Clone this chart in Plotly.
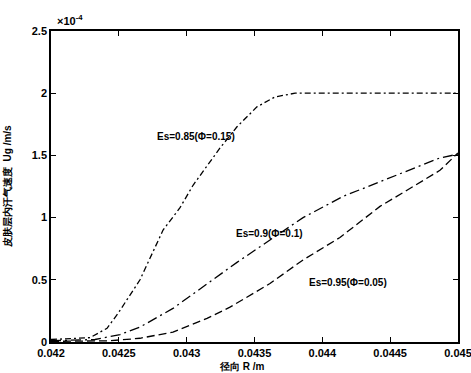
import plotly.graph_objects as go

# Radial position R (m) and sweat-vapour velocity Ug (x10^-4 m/s)
r_085 = [0.042, 0.042177, 0.042287, 0.042413, 0.042494, 0.04256, 0.042656, 0.042826,
         0.042951, 0.043047, 0.043172, 0.043246, 0.043371, 0.043518, 0.043651, 0.043799, 0.045]
ug_085 = [0.02, 0.03, 0.035, 0.11, 0.23, 0.34, 0.5, 0.9,
          1.08, 1.26, 1.45, 1.56, 1.73, 1.89, 1.97, 2.0, 2.0]

r_090 = [0.042, 0.042324, 0.042509, 0.042656, 0.042899, 0.04315, 0.043371, 0.043614,
         0.043858, 0.044152, 0.044425, 0.04455, 0.044867, 0.045]
ug_090 = [0.01, 0.02, 0.06, 0.12, 0.27, 0.47, 0.64, 0.82,
          1.0, 1.17, 1.29, 1.34, 1.48, 1.51]

r_095 = [0.042, 0.042435, 0.042656, 0.042899, 0.04315, 0.043319, 0.043614, 0.043858,
         0.04413, 0.044425, 0.044624, 0.044867, 0.045]
ug_095 = [0.005, 0.01, 0.03, 0.08, 0.19, 0.28, 0.47, 0.66,
          0.84, 1.09, 1.22, 1.38, 1.52]

x_ticks = [0.042, 0.0425, 0.043, 0.0435, 0.044, 0.0445, 0.045]
x_tick_text = ["0.042", "0.0425", "0.043", "0.0435", "0.044", "0.0445", "0.045"]
y_ticks = [0, 0.5, 1, 1.5, 2, 2.5]
y_tick_text = ["0", "0.5", "1", "1.5", "2", "2.5"]

labels = ["Es=0.85(Φ=0.15)", "Es=0.9(Φ=0.1)", "Es=0.95(Φ=0.05)"]
label_pos = [(0.043069, 1.648), (0.043607, 0.876), (0.044189, 0.482)]

FONT = dict(family="Liberation Sans, Arial, sans-serif", size=11, color="black", weight="bold")

fig = go.Figure()
series = [
    (r_085, ug_085, "6px,3px,2px,3px"),
    (r_090, ug_090, "10px,4px,2px,4px"),
    (r_095, ug_095, "8px,4px"),
]
for (xs, ys, dash), name in zip(series, labels):
    fig.add_trace(go.Scatter(
        x=xs, y=ys, mode="lines", name=name,
        line=dict(color="black", width=1.3, dash=dash),
        showlegend=False,
    ))

for text, (ax, ay) in zip(labels, label_pos):
    fig.add_annotation(x=ax, y=ay, text=text, showarrow=False,
                       font=dict(FONT, size=10), xanchor="center", yanchor="middle")

# axis titles and exponent marker
fig.add_annotation(xref="paper", yref="paper", x=0.47, y=0, yshift=-17,
                   text="径向 R /m", showarrow=False, font=dict(FONT, size=10),
                   xanchor="center", yanchor="top")
fig.add_annotation(xref="paper", yref="paper", x=0, y=0.5, xshift=-36,
                   text="皮肤层内汗气速度  Ug /m/s", showarrow=False, textangle=-90,
                   font=dict(FONT, size=10), xanchor="right", yanchor="middle")
fig.add_annotation(xref="paper", yref="paper", x=0, y=1, xshift=4, yshift=2,
                   text="×10<sup>-4</sup>", showarrow=False, font=dict(FONT, size=11),
                   xanchor="left", yanchor="bottom")

axis_common = dict(
    showgrid=False, zeroline=False, showline=True, linecolor="black", linewidth=1.6,
    mirror="ticks", ticks="inside", ticklen=5, tickwidth=1.2, tickcolor="black",
    tickfont=FONT, ticklabeloverflow="allow", automargin=False,
)
fig.update_xaxes(range=[0.042, 0.045], tickvals=x_ticks, ticktext=x_tick_text, **axis_common)
fig.update_yaxes(range=[0, 2.5], tickvals=y_ticks, ticktext=y_tick_text, **axis_common)

fig.update_layout(
    width=471, height=373,
    margin=dict(l=51, r=13, t=31, b=31),
    paper_bgcolor="white", plot_bgcolor="white",
    font=FONT,
)

fig.write_html("out.html")
